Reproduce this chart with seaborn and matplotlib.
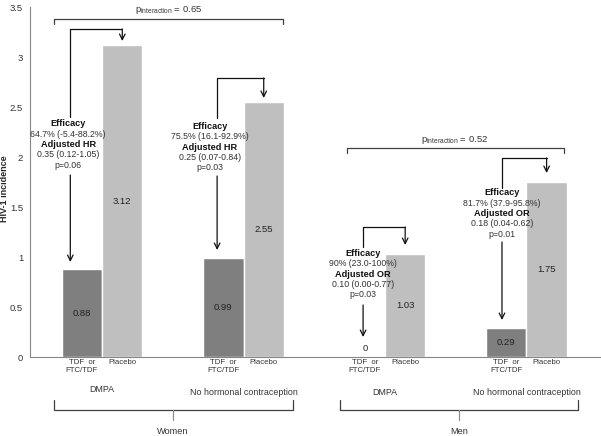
import matplotlib
matplotlib.use('Agg')
import matplotlib.pyplot as plt
import seaborn as sns
import pandas as pd

# bar data
groups = ['Women DMPA', 'Women no HC', 'Men DMPA', 'Men no HC']
arms = ['TDF or FTC/TDF', 'Placebo']
tdf_incidence = [0.88, 0.99, 0.0, 0.29]
placebo_incidence = [3.12, 2.55, 1.03, 1.75]
subgroup_labels = ['DMPA', 'No hormonal contraception', 'DMPA', 'No hormonal contraception']
sex_labels = ['Women', 'Men']
p_interaction = ['0.65', '0.52']
effect_text = [
    ['Efficacy', '64.7% (-5.4-88.2%)', 'Adjusted HR', '0.35 (0.12-1.05)', 'p=0.06'],
    ['Efficacy', '75.5% (16.1-92.9%)', 'Adjusted HR', '0.25 (0.07-0.84)', 'p=0.03'],
    ['Efficacy', '90% (23.0-100%)', 'Adjusted OR', '0.10 (0.00-0.77)', 'p=0.03'],
    ['Efficacy', '81.7% (37.9-95.8%)', 'Adjusted OR', '0.18 (0.04-0.62)', 'p=0.01'],
]

# annotation layout (data coords)
ann = [
    dict(line_x=-0.225, top=3.28, text_x=-0.24, text_y=2.125, gap_top=2.40, gap_bot=1.82, tdf_end=0.95, pbo_end=3.16),
    dict(line_x=0.813, top=2.79, text_x=0.763, text_y=2.10, gap_top=2.39, gap_bot=1.81, tdf_end=1.07, pbo_end=2.59),
    dict(line_x=1.845, top=1.30, text_x=1.845, text_y=0.83, gap_top=1.10, gap_bot=0.52, tdf_end=0.20, pbo_end=1.12),
    dict(line_x=2.827, top=1.99, text_x=2.827, text_y=1.435, gap_top=1.69, gap_bot=1.15, tdf_end=0.37, pbo_end=1.84),
]

df = pd.DataFrame({
    'group': groups * 2,
    'arm': [arms[0]] * len(groups) + [arms[1]] * len(groups),
    'incidence': tdf_incidence + placebo_incidence,
})

sns.set_style('white')
plt.rcParams['font.family'] = ['Liberation Sans', 'DejaVu Sans']
plt.rcParams['mathtext.fontset'] = 'custom'
plt.rcParams['mathtext.rm'] = 'Liberation Sans'

fig = plt.figure(figsize=(6.01, 4.36), dpi=100)
ax = fig.add_axes([30 / 601, 79 / 436, 570 / 601, 350 / 436])
width = 0.57
sns.barplot(data=df, x='group', y='incidence', hue='arm', order=groups, hue_order=arms,
            palette=['#7f7f7f', '#bfbfbf'], width=width, saturation=1, legend=False, ax=ax)

ax.set_ylim(0, 3.5)
ax.set_xlim(-0.51, 3.52)
ax.set_yticks([0, 0.5, 1, 1.5, 2, 2.5, 3, 3.5])
ax.set_yticklabels(['0', '0.5', '1', '1.5', '2', '2.5', '3', '3.5'])
ax.set_xticks([])
ax.set_xlabel('')
ax.set_ylabel('HIV-1 incidence', fontsize=6.5, fontweight='bold')
ax.yaxis.set_label_coords(-0.036, 0.48)
ax.tick_params(axis='y', labelsize=6.8, length=3, width=0.8, color='#868686', labelcolor='#333333', pad=2)
for s in ['top', 'right']:
    ax.spines[s].set_visible(False)
for s in ['left', 'bottom']:
    ax.spines[s].set_color('#868686')
    ax.spines[s].set_linewidth(0.8)

# value labels inside bars
for cont in ax.containers:
    for bar in cont:
        h = bar.get_height()
        ax.text(bar.get_x() + bar.get_width() / 2, max(h / 2, 0.09), f'{h:g}',
                ha='center', va='center', fontsize=6.8, color='#222222')

# category labels under axis
q = width / 4
for i in range(len(groups)):
    ax.text(i - q, -0.02, 'TDF  or\nFTC/TDF', ha='center', va='top', fontsize=5.6,
            linespacing=1.15, color='#333333', clip_on=False)
    ax.text(i + q, -0.02, 'Placebo', ha='center', va='top', fontsize=5.6, color='#333333', clip_on=False)
    ax.text(i, -0.32 if i == 0 else -0.355, subgroup_labels[i], ha='center', va='center',
            fontsize=6.4, color='#333333', clip_on=False)

# effect annotations with arrows
lc = '#111111'
for i, a in enumerate(ann):
    px = i + q
    ax.plot([a['line_x'], a['line_x'], px], [a['gap_top'], a['top'], a['top']], color=lc, lw=0.9)
    ax.annotate('', xy=(px, a['pbo_end']), xytext=(px, a['top']),
                arrowprops=dict(arrowstyle='->', color=lc, lw=0.9, shrinkA=0, shrinkB=0))
    ax.annotate('', xy=(a['line_x'], a['tdf_end']), xytext=(a['line_x'], a['gap_bot']),
                arrowprops=dict(arrowstyle='->', color=lc, lw=0.9, shrinkA=0, shrinkB=0))
    for k, line in enumerate(effect_text[i]):
        bold = k in (0, 2)
        ax.text(a['text_x'], a['text_y'] + (2 - k) * 0.104, line, ha='center', va='center',
                fontsize=6.6 if bold else 6.3, fontweight='bold' if bold else 'normal',
                color='#111111' if bold else '#333333')

# interaction brackets on top
top_br = [(-0.339, 1.279, 3.38, 0.473, 3.47), (1.731, 3.265, 2.09, 2.495, 2.17)]
for (x0, x1, y, tx, ty), p in zip(top_br, p_interaction):
    ax.plot([x0, x0, x1, x1], [y - 0.05, y, y, y - 0.05], color='#404040', lw=0.9, clip_on=False)
    ax.text(tx, ty, r'p$_{\rm interaction}$ = ' + p, ha='center', va='center', fontsize=6.8,
            color='#333333', clip_on=False)

# sex brackets below
bot_br = [(-0.339, 1.35, 0.502), (1.682, 3.364, 2.523)]
for (x0, x1, xc), lab in zip(bot_br, sex_labels):
    ax.plot([x0, x0, x1, x1], [-0.43, -0.53, -0.53, -0.43], color='#404040', lw=0.9, clip_on=False)
    ax.plot([xc, xc], [-0.53, -0.63], color='#909090', lw=0.9, clip_on=False)
    ax.text(xc, -0.74, lab, ha='center', va='center', fontsize=6.6, color='#333333', clip_on=False)

fig.savefig('out.png', dpi=100)
